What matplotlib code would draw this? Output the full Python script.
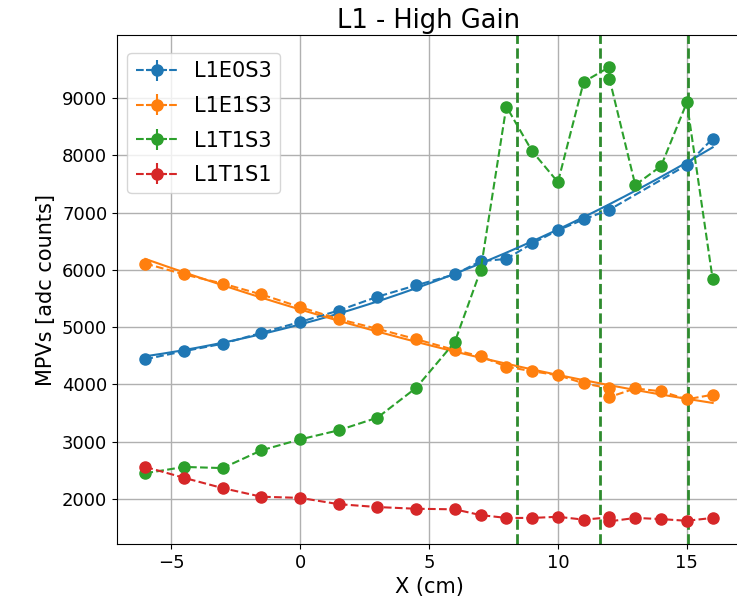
import numpy as np
import matplotlib
matplotlib.use("Agg")
import matplotlib.pyplot as plt

# ---- data ----
x_e0 = [-6, -4.5, -3, -1.5, 0, 1.5, 3, 4.5, 6, 7, 8, 9, 10, 11, 12, 15, 16]
y_e0 = [4440, 4580, 4710, 4900, 5090, 5290, 5530, 5730, 5920, 6150, 6190, 6460, 6690, 6880, 7050, 7830, 8290]

x_e1 = [-6, -4.5, -3, -1.5, 0, 1.5, 3, 4.5, 6, 7, 8, 9, 10, 11, 12, 12, 13, 14, 15, 16]
y_e1 = [6110, 5920, 5760, 5570, 5350, 5140, 4970, 4790, 4600, 4490, 4310, 4230, 4160, 4020, 3930, 3780, 3930, 3880, 3740, 3820]

x_t3 = [-6, -4.5, -3, -1.5, 0, 1.5, 3, 4.5, 6, 7, 8, 9, 10, 11, 12, 12, 13, 14, 15, 16]
y_t3 = [2450, 2560, 2540, 2850, 3040, 3200, 3420, 3940, 4740, 5990, 8850, 8070, 7530, 9280, 9540, 9330, 7480, 7810, 8920, 5840]

x_t1 = [-6, -4.5, -3, -1.5, 0, 1.5, 3, 4.5, 6, 7, 8, 9, 10, 11, 12, 12, 13, 14, 15, 16]
y_t1 = [2560, 2370, 2190, 2040, 2020, 1910, 1860, 1830, 1820, 1720, 1670, 1670, 1690, 1640, 1680, 1610, 1670, 1650, 1620, 1670]

labels = ["L1E0S3", "L1E1S3", "L1T1S3", "L1T1S1"]
vlines = [8.4, 11.65, 15.05]

colors = ["#1f77b4", "#ff7f0e", "#2ca02c", "#d62728"]

fig = plt.figure(figsize=(7.37, 6.05), dpi=100)
ax = fig.add_axes([117 / 737, 1 - 544 / 605, (741 - 117) / 737, (544 - 35) / 605])

series = [(x_e0, y_e0), (x_e1, y_e1), (x_t3, y_t3), (x_t1, y_t1)]
for (xs, ys), lab, c in zip(series, labels, colors):
    xs = np.asarray(xs, float)
    ys = np.asarray(ys, float)
    ax.errorbar(xs, ys, xerr=0.1, yerr=40, fmt="o--", color=c, ms=8,
                lw=1.5, elinewidth=1.5, label=lab, zorder=3)

# fitted curves for the two edge channels
for (xs, ys), c in zip(series[:2], colors[:2]):
    xs = np.asarray(xs, float)
    ys = np.asarray(ys, float)
    p = np.polyfit(xs, ys, 2)
    xf = np.linspace(xs.min(), xs.max(), 200)
    ax.plot(xf, np.polyval(p, xf), "-", color=c, lw=1.5, zorder=2)

for v in vlines:
    ax.axvline(v, color="#2e8b2e", ls="--", lw=2, zorder=1)

ax.set_xlim(-7.1, 17.1)
ax.set_ylim(1215, 10098)
ax.set_xticks([-5, 0, 5, 10, 15])
ax.set_yticks([2000, 3000, 4000, 5000, 6000, 7000, 8000, 9000])
ax.grid(True, color="#b0b0b0", lw=1)
ax.set_axisbelow(True)
ax.tick_params(labelsize=13)
ax.set_xlabel("X (cm)", fontsize=15)
ax.set_ylabel("MPVs [adc counts]", fontsize=15)
ax.set_title("L1 - High Gain", fontsize=18.5, pad=5)
ax.legend(loc="upper left", fontsize=15, labelspacing=0.7,
          bbox_to_anchor=(0.0, 0.985))

fig.savefig("out.png", dpi=100)
